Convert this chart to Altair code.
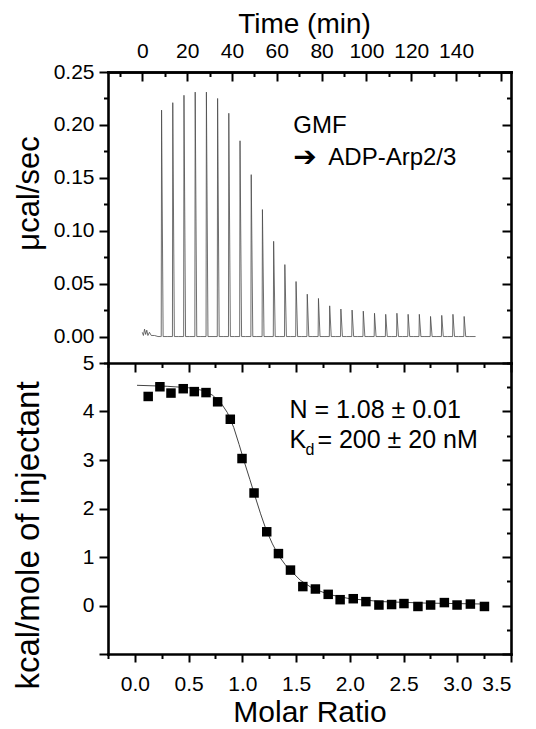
import altair as alt
import pandas as pd

FONT = "Liberation Sans"

# ---------------- data ----------------
# upper panel: raw ITC thermogram (injection time in min, peak height in µcal/sec)
inj_time = [8.6, 13.6, 18.6, 23.6, 28.6, 33.6, 38.6, 43.6, 48.6, 53.6,
            58.6, 63.6, 68.6, 73.6, 78.6, 83.6, 88.6, 93.6, 98.6, 103.6,
            108.6, 113.6, 118.6, 123.6, 128.6, 133.6, 138.6, 143.6]
inj_peak = [0.214, 0.221, 0.228, 0.231, 0.231, 0.225, 0.211, 0.185, 0.153, 0.120,
            0.090, 0.068, 0.052, 0.040, 0.036, 0.029, 0.026, 0.025, 0.024, 0.022,
            0.021, 0.022, 0.021, 0.021, 0.019, 0.020, 0.021, 0.019]
# short pre-titration trace (min, µcal/sec) and the end of the trace
pre_time = [0.0, 0.5, 1.0, 1.5, 2.0, 2.5, 3.2, 4.0, 5.5, 7.0, 8.2]
pre_val = [0.004, 0.001, 0.007, 0.002, 0.006, 0.001, 0.004, 0.001, 0.001, 0.000, 0.000]
trace_end = 148.7

# lower panel: integrated heats (molar ratio, kcal/mole of injectant)
ratio = [0.124, 0.233, 0.336, 0.450, 0.553, 0.662, 0.770, 0.888, 0.997, 1.109,
         1.227, 1.336, 1.448, 1.563, 1.680, 1.799, 1.910, 2.032, 2.150, 2.271,
         2.389, 2.504, 2.634, 2.752, 2.880, 2.998, 3.122, 3.253]
heat = [4.31, 4.51, 4.38, 4.47, 4.41, 4.39, 4.20, 3.84, 3.03, 2.32,
        1.52, 1.07, 0.73, 0.39, 0.34, 0.23, 0.12, 0.14, 0.08, 0.01,
        0.02, 0.04, -0.02, 0.01, 0.06, 0.01, 0.03, -0.02]
# fitted binding curve
fit_ratio = [0.02, 0.30, 0.50, 0.62, 0.72, 0.80, 0.86, 0.92, 0.97, 1.02, 1.07, 1.12, 1.17,
             1.22, 1.28, 1.34, 1.40, 1.45, 1.54, 1.65, 1.80, 2.00, 2.30, 2.70, 3.25]
fit_heat = [4.54, 4.52, 4.49, 4.44, 4.34, 4.18, 3.98, 3.67, 3.32, 2.95, 2.60, 2.24, 1.89,
            1.57, 1.27, 1.02, 0.84, 0.72, 0.52, 0.36, 0.23, 0.14, 0.08, 0.05, 0.03]

# axis tick values
time_ticks = list(range(-10, 170, 10))
time_labels = list(range(0, 160, 20))
ucal_ticks = [round(-0.025 + 0.025 * i, 3) for i in range(12)]
ratio_ticks = [round(-0.25 + 0.25 * i, 2) for i in range(16)]
kcal_ticks = [round(-1 + 0.5 * i, 1) for i in range(13)]

# ---------------- tables ----------------
rows = []
for t, v in zip(pre_time, pre_val):
    rows.append((t, v))
for t, h in zip(inj_time, inj_peak):
    rows += [(t - 0.15, 0.0), (t, h), (t + 0.7, 0.0), (t + 2.5, 0.0)]
rows.append((trace_end, 0.0))
trace = pd.DataFrame(rows, columns=["t", "v"])
trace["k"] = range(len(trace))

pts = pd.DataFrame({"r": ratio, "h": heat})
fit = pd.DataFrame({"r": fit_ratio, "h": fit_heat})
fit["k"] = range(len(fit))

W, H = 403, 291
time_scale = alt.Scale(domain=[-15.3, 164.5], nice=False, zero=False)
ucal_scale = alt.Scale(domain=[-0.025, 0.25], nice=False, zero=False)
ratio_scale = alt.Scale(domain=[-0.25, 3.5], nice=False, zero=False)
kcal_scale = alt.Scale(domain=[-1, 5], nice=False, zero=False)

style = dict(domainColor="black", domainWidth=2.6, domainCap="square",
             tickColor="black", tickWidth=2, labelFont=FONT, labelFontSize=21,
             labelColor="black", titleFont=FONT,
             titleFontWeight="normal", titleColor="black", grid=False)

TMAJ = "datum.value % 20 === 0"
UMAJ = "abs(datum.value*20 - round(datum.value*20)) < 1e-6"
RMAJ = "abs(datum.value*2 - round(datum.value*2)) < 1e-6"
KMAJ = "abs(datum.value - round(datum.value)) < 1e-6"

# ---------------- upper panel ----------------
ax_time = alt.Axis(orient="top", values=time_labels, format="d", ticks=False,
                   labelPadding=11, title="Time (min)", titlePadding=2,
                   titleFontSize=28, titleX=196, **style)
ax_time_ticks = alt.Axis(orient="bottom", offset=-H, values=time_ticks, labels=False,
                         tickSize={"expr": f"({TMAJ}) ? 9 : 4.5"}, title=None, **style)
ax_ucal = alt.Axis(orient="left", values=ucal_ticks, format=".2f",
                   labelExpr=f"({UMAJ}) && datum.value > -0.001 ? datum.label : ''",
                   tickSize={"expr": f"({UMAJ}) ? 9 : 4.5"}, labelPadding=5,
                   title="μcal/sec", titleFontSize=31, titleX=-63, titleY=121, **style)
ax_ucal_r = alt.Axis(orient="right", values=ucal_ticks, labels=False,
                     tickSize={"expr": f"({UMAJ}) ? -9 : -4.5"}, title=None, **style)

trace_line = alt.Chart(trace).mark_line(color="#4a4a4a", strokeWidth=0.8).encode(
    x=alt.X("t:Q", scale=time_scale, axis=ax_time),
    y=alt.Y("v:Q", scale=ucal_scale, axis=ax_ucal),
    order="k:Q",
)
frame1 = alt.Chart(trace).mark_point(opacity=0).encode(
    x=alt.X("t:Q", scale=time_scale, axis=ax_time_ticks),
    y=alt.Y("v:Q", scale=ucal_scale, axis=ax_ucal_r),
)

def label(df, **kw):
    base = dict(font=FONT, fontSize=24, align="left", baseline="alphabetic", color="black")
    base.update(kw)
    return alt.Chart(pd.DataFrame(df)).mark_text(**base)

gmf = label({"x": [67.4], "y": [0.1923], "s": ["GMF"]}).encode(
    x=alt.X("x:Q", scale=time_scale, axis=None),
    y=alt.Y("y:Q", scale=ucal_scale, axis=None), text="s:N")
arrow = label({"x": [67.4], "y": [0.1686], "s": ["➔"]}, font="DejaVu Sans",
              fontSize=28, fontWeight="bold", baseline="middle").encode(
    x=alt.X("x:Q", scale=time_scale, axis=None),
    y=alt.Y("y:Q", scale=ucal_scale, axis=None), text="s:N")
adp = label({"x": [83.0], "y": [0.1617], "s": ["ADP-Arp2/3"]}).encode(
    x=alt.X("x:Q", scale=time_scale, axis=None),
    y=alt.Y("y:Q", scale=ucal_scale, axis=None), text="s:N")

top = alt.layer(trace_line, frame1, gmf, arrow, adp).properties(width=W, height=H)

# ---------------- lower panel ----------------
ax_ratio = alt.Axis(orient="bottom", values=ratio_ticks, format=".1f",
                    labelExpr=f"({RMAJ}) && datum.value > -0.01 ? datum.label : ''",
                    tickSize={"expr": f"({RMAJ}) ? 8 : 4.5"}, labelPadding=11,
                    title="Molar Ratio", titlePadding=3, titleFontSize=30, **style)
ax_ratio_t = alt.Axis(orient="top", values=ratio_ticks, labels=False,
                      tickSize={"expr": f"({RMAJ}) ? -9 : -4.5"}, title=None, **style)
ax_kcal = alt.Axis(orient="left", values=kcal_ticks, format="d",
                   labelExpr=f"({KMAJ}) && datum.value > -0.5 ? datum.label : ''",
                   tickSize={"expr": f"({KMAJ}) ? 9 : 4.5"}, labelPadding=5,
                   title="kcal/mole of injectant", titleFontSize=33,
                   titleX=-63, titleY=172, **style)
ax_kcal_r = alt.Axis(orient="right", values=kcal_ticks, labels=False,
                     tickSize={"expr": f"({KMAJ}) ? -9 : -4.5"}, title=None, **style)

fit_line = alt.Chart(fit).mark_line(color="#444444", strokeWidth=1).encode(
    x=alt.X("r:Q", scale=ratio_scale, axis=ax_ratio),
    y=alt.Y("h:Q", scale=kcal_scale, axis=ax_kcal),
    order="k:Q",
)
squares = alt.Chart(pts).mark_square(size=90, color="black", opacity=1).encode(
    x=alt.X("r:Q", scale=ratio_scale, axis=None),
    y=alt.Y("h:Q", scale=kcal_scale, axis=None),
)
frame2 = alt.Chart(pts).mark_point(opacity=0).encode(
    x=alt.X("r:Q", scale=ratio_scale, axis=ax_ratio_t),
    y=alt.Y("h:Q", scale=kcal_scale, axis=ax_kcal_r),
)
n_txt = label({"x": [1.438], "y": [3.87], "s": ["N = 1.08 ± 0.01"]}, fontSize=25).encode(
    x=alt.X("x:Q", scale=ratio_scale, axis=None),
    y=alt.Y("y:Q", scale=kcal_scale, axis=None), text="s:N")
k_txt = label({"x": [1.438], "y": [3.24], "s": ["K"]}, fontSize=25).encode(
    x=alt.X("x:Q", scale=ratio_scale, axis=None),
    y=alt.Y("y:Q", scale=kcal_scale, axis=None), text="s:N")
d_txt = label({"x": [1.438], "y": [3.24], "s": ["d"]}, fontSize=16, dx=16, dy=7).encode(
    x=alt.X("x:Q", scale=ratio_scale, axis=None),
    y=alt.Y("y:Q", scale=kcal_scale, axis=None), text="s:N")
kd_txt = label({"x": [1.438], "y": [3.24], "s": ["= 200 ± 20 nM"]}, fontSize=25, dx=28).encode(
    x=alt.X("x:Q", scale=ratio_scale, axis=None),
    y=alt.Y("y:Q", scale=kcal_scale, axis=None), text="s:N")

bottom = alt.layer(fit_line, squares, frame2, n_txt, k_txt, d_txt, kd_txt).properties(width=W, height=H)

chart = alt.vconcat(top, bottom, spacing=0, bounds="flush").properties(
    padding={"left": 12, "top": 10, "right": 5, "bottom": 5}
).configure_view(stroke=None)

chart.save("out.html", embed_options={"renderer": "svg", "actions": False})
